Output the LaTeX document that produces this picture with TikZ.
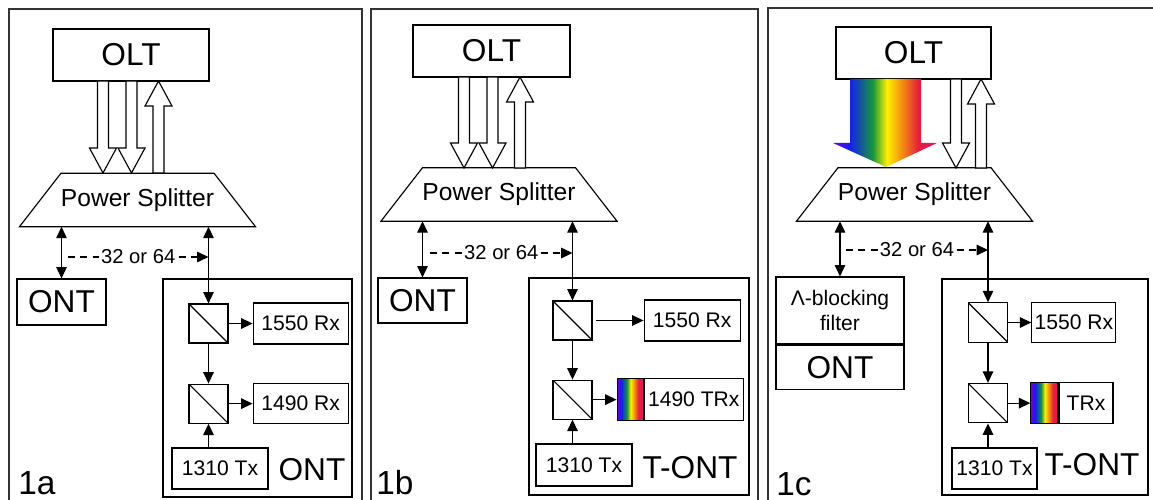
\documentclass[tikz,border=0pt]{standalone}
\usepackage{fontspec}
\setmainfont{Liberation Sans}
\usetikzlibrary{arrows.meta, positioning}

\definecolor{spviolet}{RGB}{110,0,220}
\definecolor{spblue}{RGB}{20,30,240}
\definecolor{spgreen}{RGB}{20,150,60}
\definecolor{spyellow}{RGB}{255,240,0}
\definecolor{sporange}{RGB}{240,130,20}
\definecolor{spred}{RGB}{230,30,60}
\definecolor{sppink}{RGB}{220,20,110}

\pgfdeclarehorizontalshading{spectrum}{100bp}{color(0bp)=(spviolet); color(25bp)=(spviolet);
    color(33bp)=(spblue); color(44bp)=(spgreen); color(51bp)=(spyellow);
    color(59bp)=(sporange); color(66bp)=(spred); color(75bp)=(sppink); color(100bp)=(sppink)}

% hollow block arrows: x, top, bottom
\newcommand{\fatdown}[3]{\draw[fat] (#1-5.5,#2) -- (#1+5.5,#2) -- (#1+5.5,#3-25) -- (#1+13.5,#3-25)
    -- (#1,#3) -- (#1-13.5,#3-25) -- (#1-5.5,#3-25) -- cycle;}
\newcommand{\fatup}[3]{\draw[fat] (#1-5.5,#3) -- (#1+5.5,#3) -- (#1+5.5,#2+25) -- (#1+13.5,#2+25)
    -- (#1,#2) -- (#1-13.5,#2+25) -- (#1-5.5,#2+25) -- cycle;}
% trapezoid outline round a splitter node
\newcommand{\splitterline}[1]{\draw (#1.north west) -- (#1.north east) -- ([xshift = 0.83cm]#1.south east)
    -- ([xshift = -0.83cm]#1.south west) -- cycle;}

\begin{document}
\begin{tikzpicture}[
        x = 0.02cm, y = -0.02cm,
        line width = 0.65pt,
        >= {Triangle[length = 6.5pt, width = 6pt]},
        box/.style = {draw, inner sep = 0pt, font = \fontsize{12}{14.7}\selectfont},
        bigbox/.style = {draw, inner sep = 0pt, font = \fontsize{18}{20}\selectfont},
        cube/.style = {draw, minimum size = 0.78cm, inner sep = 0pt,
            path picture = {\draw (path picture bounding box.north west) -- (path picture bounding box.south east);}},
        strip/.style = {draw, shade, shading = spectrum, inner sep = 0pt},
        splitter/.style = {minimum width = 3.03cm, minimum height = 1.07cm, inner sep = 0pt, outer sep = 0pt,
            font = \fontsize{14}{16}\selectfont},
        panelframe/.style = {draw = black!80, line width = 1pt},
        fat/.style = {draw, fill = white},
        link/.style = {->},
        dlink/.style = {<->},
        dashlink/.style = {->, dash pattern = on 4pt off 3pt},
        countlabel/.style = {fill = white, inner sep = 1pt, font = \fontsize{11.5}{13}\selectfont},
        biglabel/.style = {font = \fontsize{18}{20}\selectfont},
        paneltag/.style = {font = \fontsize{19}{21}\selectfont}
    ]

    \useasboundingbox (0,0) rectangle (1153,500);

    \draw[panelframe] (9,9) rectangle (362,510);
    \draw[panelframe] (371,9) rectangle (758,510);
    \draw[panelframe] (768,8) rectangle (1170,510);

    % 1a
    \node[bigbox, minimum width = 3.12cm, minimum height = 1.04cm] (olta) at (131,55) {OLT};
    \node[splitter] (spla) at (137.5,200) {Power Splitter};
    \splitterline{spla}
    \fatdown{103}{81}{173}
    \fatdown{131.5}{81}{173}
    \fatup{158.5}{81}{173}

    \node[bigbox, minimum width = 1.78cm, minimum height = 0.92cm] (onta) at (61.5,302) {ONT};
    \node[draw, minimum width = 3.78cm, minimum height = 4.36cm] (tonta) at (257.5,388) {};
    \node[cube] (cubea1) at (208.5,323.5) {};
    \node[cube, below = 0.8cm of cubea1] (cubea2) {};
    \node[box, minimum width = 1.9cm, minimum height = 0.82cm, right = 0.48cm of cubea1] (rxa1) {1550 Rx};
    \node[box, minimum width = 1.9cm, minimum height = 0.8cm, right = 0.48cm of cubea2] (rxa2) {1490 Rx};
    \node[box, minimum width = 1.92cm, minimum height = 0.82cm] (txa) at (220,468.5) {1310 Tx};
    \node[biglabel] (lonta) at (312,470) {ONT};
    \node[paneltag] (taga) at (37,483) {1a};

    \coordinate (da1) at (68,257);
    \coordinate (da2) at (208.5,257);
    \draw[dlink] (onta.north) -- (onta.north |- spla.south);
    \draw[dlink] (cubea1.north) -- (cubea1.north |- spla.south);
    \draw[dashlink] (da1) -- node[countlabel] {32 or 64} (da2);
    \draw[link] (cubea1) -- (rxa1);
    \draw[link] (cubea1) -- (cubea2);
    \draw[link] (cubea2) -- (rxa2);
    \draw[link] (cubea2.south |- txa.north) -- (cubea2.south);

    % 1b
    \node[bigbox, minimum width = 3.14cm, minimum height = 1.04cm] (oltb) at (491.5,51) {OLT};
    \node[splitter] (splb) at (499,194.5) {Power Splitter};
    \splitterline{splb}
    \fatdown{464}{77}{168}
    \fatdown{492.5}{77}{168}
    \fatup{520}{77}{168}

    \node[bigbox, minimum width = 1.78cm, minimum height = 0.9cm] (ontb) at (422.5,300.5) {ONT};
    \node[draw, minimum width = 4.4cm, minimum height = 4.34cm] (tontb) at (639,386.5) {};
    \node[cube] (cubeb1) at (572.5,320.5) {};
    \node[cube, below = 0.78cm of cubeb1] (cubeb2) {};
    \node[box, minimum width = 1.92cm, minimum height = 0.82cm, right = 1.02cm of cubeb1] (rxb1) {1550 Rx};
    \node[strip, minimum width = 0.52cm, minimum height = 0.84cm, right = 0.48cm of cubeb2] (stripb) {};
    \node[box, minimum width = 1.98cm, minimum height = 0.84cm, right = 0cm of stripb] (trxb) {1490 TRx};
    \node[box, minimum width = 1.92cm, minimum height = 0.84cm] (txb) at (584,465) {1310 Tx};
    \node[biglabel] (ltontb) at (690,467.5) {T-ONT};
    \node[paneltag] (tagb) at (395,483) {1b};

    \coordinate (db1) at (430,253);
    \coordinate (db2) at (572.5,253);
    \draw[dlink] (ontb.north) -- (ontb.north |- splb.south);
    \draw[dlink] (cubeb1.north) -- (cubeb1.north |- splb.south);
    \draw[dashlink] (db1) -- node[countlabel] {32 or 64} (db2);
    \draw[link, shorten <= 2pt] (cubeb1) -- (rxb1);
    \draw[link] (cubeb1) -- (cubeb2);
    \draw[link] (cubeb2) -- (stripb);
    \draw[link] (cubeb2.south |- txb.north) -- (cubeb2.south);

    % 1c
    \node[bigbox, minimum width = 3.1cm, minimum height = 1.04cm] (oltc) at (913.5,53) {OLT};
    \node[splitter] (splc) at (914.5,194.5) {Power Splitter};
    \splitterline{splc}
    \shade[shading = spectrum] (850,79) -- (921,79) -- (921,143) -- (937,143)
        -- (886,167) -- (833,143) -- (850,143) -- cycle;
    \fatdown{956}{79}{168}
    \fatup{981}{79}{168}

    \node[box, align = center, minimum width = 2.56cm, minimum height = 1.34cm] (filterc) at (840,310.5) {Λ-blocking\\filter};
    \node[bigbox, minimum width = 2.56cm, minimum height = 0.88cm, below = 0cm of filterc] (ontc) {ONT};
    \node[draw, minimum width = 4.12cm, minimum height = 4.32cm] (tontc) at (1045,387) {};
    \node[cube, minimum size = 0.79cm] (cubec1) at (988,322.5) {};
    \node[cube, minimum size = 0.79cm, below = 0.8cm of cubec1] (cubec2) {};
    \node[box, minimum width = 1.68cm, minimum height = 0.8cm, right = 0.46cm of cubec1] (rxc1) {1550 Rx};
    \node[strip, minimum width = 0.54cm, minimum height = 0.82cm, right = 0.44cm of cubec2] (stripc) {};
    \node[box, minimum width = 1.08cm, minimum height = 0.82cm, right = 0cm of stripc] (trxc) {TRx};
    \node[box, minimum width = 1.7cm, minimum height = 0.82cm] (txc) at (994.5,468.5) {1310 Tx};
    \node[biglabel] (ltontc) at (1092,465) {T-ONT};
    \node[paneltag] (tagc) at (794,484) {1c};

    \coordinate (dc1) at (846,250);
    \coordinate (dc2) at (988,250);
    \draw[dlink] (filterc.north) -- (filterc.north |- splc.south);
    \draw[dlink] (cubec1.north) -- (cubec1.north |- splc.south);
    \draw[dashlink] (dc1) -- node[countlabel] {32 or 64} (dc2);
    \draw[link] (cubec1) -- (rxc1);
    \draw[link] (cubec1) -- (cubec2);
    \draw[link] (cubec2) -- (stripc);
    \draw[link] (cubec2.south |- txc.north) -- (cubec2.south);

\end{tikzpicture}
\end{document}
